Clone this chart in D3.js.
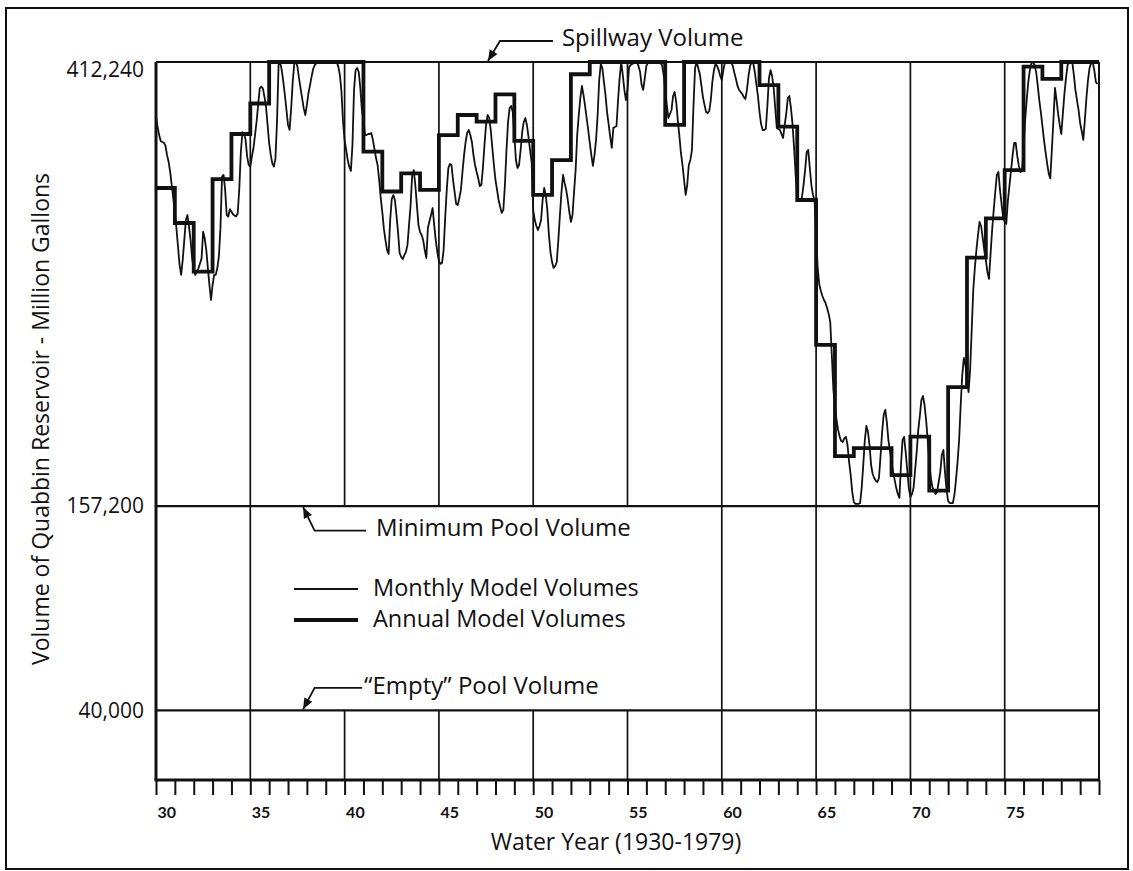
<!DOCTYPE html>
<html>
<head>
<meta charset="utf-8">
<script src="https://cdnjs.cloudflare.com/ajax/libs/d3/7.8.5/d3.min.js"></script>
<style>
	body { margin: 0; background: #fff; }
	svg text { font-family: "Open Sans", sans-serif; fill: #111; }
</style>
</head>
<body>
<div id="chart"></div>
<script>
// Water years 1930-1979, plotted as 30..79
const firstYear = 30,
	lastYear = 80;

// Annual model volume for each water year, thousand million gallons
const annualVolumes = [
	339.9, 319.8, 291.9, 345.0, 370.9, 388.4, 412.24, 412.24, 412.24, 412.24,
	412.24, 360.8, 337.9, 348.3, 338.8, 370.3, 381.8, 378.0, 393.6, 366.9,
	335.9, 355.9, 405.2, 412.24, 412.24, 412.24, 412.24, 376.1, 412.24, 412.24,
	412.24, 412.24, 399.0, 375.1, 333.0, 249.8, 186.0, 190.6, 190.6, 175.1,
	197.2, 166.2, 225.6, 299.9, 322.5, 350.2, 409.6, 402.5, 412.24, 412.24
];

// Monthly model volumes, 12 per water year, thousand million gallons
const monthlyVolumes = [
	380.9, 375.1, 370.3, 366.9, 366.3, 365.9, 364.2, 358.9, 355.0, 349.3, 341.6, 334.0, // 30
	326.3, 316.7, 306.2, 295.7, 290.0, 298.6, 310.0, 321.5, 324.4, 317.7, 310.0, 299.5, // 31
	292.8, 290.0, 291.9, 293.8, 296.6, 299.5, 314.8, 311.0, 304.3, 293.8, 284.2, 275.6, // 32
	284.2, 290.0, 290.0, 293.8, 300.5, 316.7, 346.4, 347.4, 338.7, 324.4, 323.5, 327.8, // 33
	326.3, 324.8, 324.0, 323.6, 325.4, 339.7, 360.8, 371.9, 371.5, 367.5, 357.9, 353.1, // 34
	352.2, 357.9, 362.7, 370.3, 378.0, 387.6, 397.1, 398.1, 397.1, 392.3, 386.6, 376.1, // 35
	365.6, 358.9, 354.1, 352.2, 356.9, 378.0, 410.5, 412.2, 407.6, 401.0, 393.3, 384.7, // 36
	376.1, 373.2, 385.6, 401.0, 411.5, 412.2, 409.6, 402.9, 397.1, 391.4, 385.6, 381.8, // 37
	387.6, 394.3, 399.0, 403.8, 408.2, 410.5, 411.5, 412.0, 412.2, 412.2, 412.2, 412.2, // 38
	412.2, 412.2, 412.2, 412.2, 412.2, 412.2, 412.2, 412.2, 409.6, 404.8, 395.2, 378.0, // 39
	367.5, 361.7, 356.0, 352.0, 349.7, 364.6, 396.2, 407.6, 408.8, 406.5, 397.3, 384.7, // 40
	378.9, 370.3, 370.3, 370.9, 370.9, 371.5, 367.5, 362.3, 357.1, 353.1, 344.5, 334.1, // 41
	326.1, 316.4, 310.0, 304.3, 302.0, 321.5, 333.5, 335.8, 333.0, 324.4, 314.6, 302.6, // 42
	300.3, 299.1, 301.4, 303.1, 307.2, 318.7, 330.1, 347.4, 350.2, 341.6, 330.1, 318.7, // 43
	314.6, 312.9, 310.0, 304.3, 299.7, 316.9, 320.8, 324.4, 328.4, 318.7, 310.0, 303.1, // 44
	298.0, 296.3, 296.9, 304.3, 322.7, 338.8, 351.4, 353.7, 353.1, 344.5, 337.6, 330.7, // 45
	330.1, 334.1, 338.8, 349.1, 358.8, 366.3, 371.5, 373.2, 370.3, 366.3, 358.8, 353.1, // 46
	349.1, 345.6, 341.0, 341.6, 351.4, 364.6, 376.1, 381.8, 380.1, 373.2, 362.9, 353.1, // 47
	344.5, 338.8, 333.0, 329.0, 325.6, 327.3, 341.6, 361.7, 377.8, 385.8, 387.0, 383.5, // 48
	370.3, 356.0, 351.4, 353.1, 361.7, 372.1, 377.8, 380.1, 376.1, 369.2, 361.7, 354.8, // 49
	327.2, 321.5, 318.1, 315.8, 318.1, 321.5, 333.0, 339.9, 335.9, 327.2, 312.9, 303.1, // 50
	297.4, 294.0, 295.1, 297.4, 310.0, 324.4, 337.6, 347.4, 342.8, 338.8, 333.0, 326.1, // 51
	320.4, 324.4, 337.6, 350.2, 370.3, 381.8, 391.6, 398.5, 393.3, 387.0, 380.1, 373.2, // 52
	365.8, 358.8, 352.6, 358.8, 367.5, 381.8, 401.9, 411.1, 408.8, 400.8, 393.3, 383.5, // 53
	376.6, 369.2, 362.9, 374.4, 374.9, 375.5, 390.4, 403.0, 412.2, 404.8, 396.2, 390.4, // 54
	396.2, 409.3, 410.5, 411.1, 411.6, 412.2, 412.2, 410.0, 406.5, 399.0, 396.2, 403.0, // 55
	410.0, 411.6, 412.2, 412.2, 412.2, 412.2, 412.2, 412.2, 412.2, 411.6, 410.5, 404.8, // 56
	396.2, 387.6, 380.1, 382.4, 384.7, 392.7, 395.0, 389.3, 378.9, 369.8, 360.0, 353.1, // 57
	344.5, 335.9, 341.6, 353.1, 356.0, 361.7, 387.6, 408.8, 412.2, 408.8, 405.3, 399.0, // 58
	392.1, 387.6, 383.5, 382.9, 384.1, 390.4, 400.8, 407.6, 411.1, 410.0, 407.6, 404.2, // 59
	401.9, 407.6, 412.2, 412.2, 412.2, 412.2, 412.2, 410.0, 406.0, 402.5, 398.5, 396.2, // 60
	395.0, 393.9, 392.1, 391.0, 396.2, 404.2, 410.0, 412.2, 411.6, 406.5, 399.6, 392.7, // 61
	383.5, 376.6, 373.2, 373.2, 373.8, 387.0, 403.0, 407.6, 404.2, 397.3, 385.8, 374.4, // 62
	373.8, 373.2, 370.9, 368.6, 376.1, 382.4, 391.6, 392.7, 385.8, 376.6, 362.9, 347.4, // 63
	334.1, 333.0, 332.4, 334.7, 341.6, 350.2, 360.5, 361.7, 351.4, 341.6, 335.9, 333.0, // 64
	313.5, 294.0, 284.8, 280.8, 277.9, 275.6, 273.9, 271.0, 267.6, 263.0, 244.1, 224.0, // 65
	215.3, 206.7, 201.0, 197.0, 194.6, 194.1, 196.3, 197.0, 192.3, 182.6, 175.1, 165.4, // 66
	159.6, 158.5, 158.5, 158.5, 159.0, 167.6, 180.8, 195.2, 203.3, 199.8, 192.3, 180.8, // 67
	175.7, 173.4, 171.7, 171.1, 173.4, 186.0, 199.8, 209.6, 212.5, 205.6, 195.2, 188.9, // 68
	182.6, 176.8, 172.3, 167.6, 164.2, 161.9, 180.8, 195.2, 197.0, 188.3, 178.0, 167.6, // 69
	162.5, 164.2, 167.6, 178.0, 188.3, 200.9, 209.0, 218.2, 220.5, 215.3, 206.7, 195.2, // 70
	182.6, 173.4, 168.2, 165.9, 164.2, 165.4, 171.1, 176.8, 186.6, 189.5, 176.8, 166.5, // 71
	160.2, 159.0, 159.0, 159.0, 163.6, 172.3, 182.6, 195.2, 215.3, 232.5, 242.3, 238.3, // 72
	230.8, 222.7, 235.4, 258.4, 281.3, 294.0, 304.3, 312.9, 320.4, 318.1, 311.2, 304.3, // 73
	298.6, 291.7, 287.7, 302.0, 315.8, 327.2, 337.6, 347.4, 349.1, 338.8, 330.7, 323.2, // 74
	320.4, 319.2, 332.4, 341.0, 349.7, 358.3, 365.8, 365.8, 358.3, 352.6, 349.1, 349.7, // 75
	361.7, 378.9, 390.4, 400.8, 407.6, 411.6, 412.2, 410.5, 406.5, 399.0, 390.4, 383.5, // 76
	375.5, 367.5, 360.5, 354.1, 348.3, 345.4, 361.7, 378.9, 397.3, 390.4, 382.4, 376.1, // 77
	370.9, 382.4, 393.9, 403.0, 410.5, 412.2, 412.2, 412.2, 404.8, 396.2, 390.4, 384.7, // 78
	377.2, 372.6, 367.5, 378.9, 391.6, 401.9, 408.8, 411.6, 412.2, 407.6, 400.8, 399.6  // 79
];

// Reference volumes (million gallons): spillway, minimum pool, "empty" pool
const yTickValues = [412240, 157200, 40000];
const xTickLabels = [30, 35, 40, 45, 50, 55, 60, 65, 70, 75];

// Grid lines drawn full height, and ones broken across the legend area
const gridFull = [35, 60, 65, 70, 75];
const gridBroken = [40, 45, 50, 55];

const width = 1133,
	height = 871,
	plot = {left: 156, right: 1099, top: 62, bottom: 780};

const svg = d3.select('#chart').append('svg')
	.attr('width', width)
	.attr('height', height);

// outer frame round the whole figure
svg.append('rect')
	.attr('x', 6).attr('y', 8)
	.attr('width', 1122).attr('height', 861)
	.style('fill', 'none')
	.style('stroke', '#111')
	.style('stroke-width', 2);

const x = d3.scaleLinear().domain([firstYear, lastYear]).range([plot.left, plot.right]);
const y = d3.scaleLinear().domain([0, 412240]).range([plot.bottom, plot.top]);

const ink = '#111';

// vertical grid
const grid = svg.append('g').style('stroke', ink).style('stroke-width', 1.7);
grid.selectAll('.full')
	.data(gridFull)
	.enter().append('line')
		.attr('x1', d => x(d)).attr('x2', d => x(d))
		.attr('y1', y(412240)).attr('y2', y(0));
gridBroken.forEach(yr => {
	[[412240, 157200], [40000, 0]].forEach(span => {
		grid.append('line')
			.attr('x1', x(yr)).attr('x2', x(yr))
			.attr('y1', y(span[0])).attr('y2', y(span[1]));
	});
});

// horizontal reference volumes
svg.append('g')
	.selectAll('line')
	.data(yTickValues)
	.enter().append('line')
		.attr('x1', x(firstYear)).attr('x2', x(lastYear))
		.attr('y1', d => y(d)).attr('y2', d => y(d))
		.style('stroke', ink)
		.style('stroke-width', 2.2);

// plot borders: heavy left and bottom, light right
svg.append('line')
	.attr('x1', x(firstYear)).attr('x2', x(firstYear))
	.attr('y1', y(412240)).attr('y2', y(0))
	.style('stroke', ink).style('stroke-width', 3);
svg.append('line')
	.attr('x1', x(lastYear)).attr('x2', x(lastYear))
	.attr('y1', y(412240)).attr('y2', y(0))
	.style('stroke', ink).style('stroke-width', 2);
svg.append('line')
	.attr('x1', x(firstYear) - 1.5).attr('x2', x(lastYear) + 1)
	.attr('y1', y(0)).attr('y2', y(0))
	.style('stroke', ink).style('stroke-width', 3);

// year ticks under the axis
svg.append('g')
	.attr('transform', `translate(0,${plot.bottom})`)
	.call(d3.axisBottom(x).tickValues(d3.range(firstYear, lastYear + 1)).tickSize(15).tickFormat(''))
	.call(g => g.select('.domain').remove())
	.call(g => g.selectAll('line').style('stroke', ink).style('stroke-width', 2));

svg.append('g')
	.attr('transform', `translate(0,${plot.bottom})`)
	.call(d3.axisBottom(x).tickValues(xTickLabels).tickSize(0).tickPadding(27).tickFormat(d => d))
	.call(g => g.select('.domain').remove())
	.call(g => g.selectAll('text')
		.attr('text-anchor', 'start')
		.attr('x', 1)
		.style('font-family', 'Lato, sans-serif')
		.style('font-weight', 'bold')
		.style('font-size', '16px')
		.style('fill', ink));

// volume labels on the left
svg.append('g')
	.attr('transform', `translate(${plot.left},0)`)
	.call(d3.axisLeft(y).tickValues(yTickValues).tickSize(0).tickPadding(12).tickFormat(d3.format(',')))
	.call(g => g.select('.domain').remove())
	.call(g => g.selectAll('text')
		.attr('dy', d => d === d3.max(yTickValues) ? '0.7em' : '0.32em')
		.style('font-family', '"Open Sans", sans-serif')
		.style('font-size', '21px')
		.style('fill', ink));

// monthly model volumes, thin line
const monthlyLine = d3.line()
	.x((d, i) => x(firstYear + i / 12))
	.y(d => y(d * 1000));

svg.append('path')
	.datum(monthlyVolumes)
	.attr('d', monthlyLine)
	.style('fill', 'none')
	.style('stroke', ink)
	.style('stroke-width', 1.8)
	.style('stroke-linejoin', 'round');

// annual model volumes, heavy step line
const annualLine = d3.line()
	.curve(d3.curveStepAfter)
	.x(d => x(d[0]))
	.y(d => y(d[1] * 1000));

const annualPoints = annualVolumes.map((v, i) => [firstYear + i, v]);
annualPoints.push([lastYear, annualVolumes[annualVolumes.length - 1]]);

svg.append('path')
	.datum(annualPoints)
	.attr('d', annualLine)
	.style('fill', 'none')
	.style('stroke', ink)
	.style('stroke-width', 3.8)
	.style('stroke-linejoin', 'miter');

// leader with arrow head, offsets measured from the tip
function leader(tipX, tipY, offsets){
	const pts = offsets.map(o => [tipX + o[0], tipY + o[1]]).reverse();
	pts.push([tipX, tipY]);
	svg.append('path')
		.attr('d', d3.line()(pts))
		.style('fill', 'none')
		.style('stroke', ink)
		.style('stroke-width', 1.8);

	const from = pts[pts.length - 2],
		dx = tipX - from[0],
		dy = tipY - from[1],
		len = Math.sqrt(dx * dx + dy * dy),
		ux = dx / len, uy = dy / len,
		headLen = 11, half = 4.5;
	const bx = tipX - ux * headLen,
		by = tipY - uy * headLen;
	svg.append('path')
		.attr('d', `M${tipX},${tipY}L${bx - uy * half},${by + ux * half}L${bx + uy * half},${by - ux * half}Z`)
		.style('fill', ink);
}

function label(tx, ty, str, size){
	svg.append('text')
		.attr('x', tx)
		.attr('y', ty)
		.style('font-size', (size || 24) + 'px')
		.text(str);
}

const spillTipX = x(47.6), spillTipY = y(412240) - 1;
leader(spillTipX, spillTipY, [[12, -20], [65, -20]]);
label(spillTipX + 74, spillTipY - 15, 'Spillway Volume');

const minTipX = x(37.8), minTipY = y(157200) + 1;
leader(minTipX, minTipY, [[11.5, 23.5], [63, 23.5]]);
label(minTipX + 73, minTipY + 29, 'Minimum Pool Volume');

const emptyTipX = x(37.8), emptyTipY = y(40000) - 1;
leader(emptyTipX, emptyTipY, [[11.5, -21.5], [59, -21.5]]);
label(emptyTipX + 61, emptyTipY - 15, '\u201CEmpty\u201D Pool Volume');

// legend
const legend = [
	{name: 'Monthly Model Volumes', width: 1.8, y: 589},
	{name: 'Annual Model Volumes', width: 3.8, y: 620}
];
legend.forEach(item => {
	svg.append('line')
		.attr('x1', 294).attr('x2', 358)
		.attr('y1', item.y).attr('y2', item.y)
		.style('stroke', ink)
		.style('stroke-width', item.width);
	label(373, item.y + 7, item.name, 23.5);
});

// axis titles
svg.append('text')
	.attr('x', 616)
	.attr('y', 850)
	.attr('text-anchor', 'middle')
	.style('font-size', '23px')
	.text('Water Year (1930-1979)');

svg.append('text')
	.attr('transform', 'translate(49,419) rotate(-90)')
	.attr('text-anchor', 'middle')
	.style('font-size', '23px')
	.text('Volume of Quabbin Reservoir - Million Gallons');
</script>
</body>
</html>
